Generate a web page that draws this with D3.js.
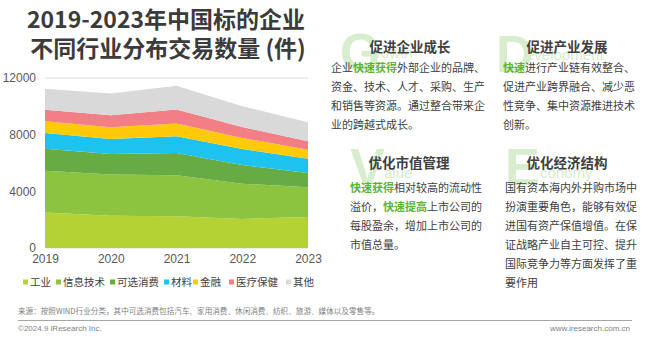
<!DOCTYPE html>
<html>
<head>
<meta charset="utf-8">
<script src="https://cdn.jsdelivr.net/npm/d3@7"></script>
<style>
  body { margin: 0; background: #fff; }
  svg { display: block; font-family: "Noto Sans CJK SC", "Noto Sans", sans-serif; }
</style>
</head>
<body>
<svg id="chart" width="660" height="337"></svg>
<script>
// data
var years = ["2019", "2020", "2021", "2022", "2023"];
var sectors = ["工业", "信息技术", "可选消费", "材料", "金融", "医疗保健", "其他"];
var industry = [2500, 2280, 2240, 2050, 2190];
var infotech = [2960, 2900, 2890, 2490, 2090];
var consumer = [1550, 1460, 1580, 1320, 1010];
var materials = [1110, 1060, 1180, 1130, 1010];
var finance = [820, 820, 890, 780, 640];
var health = [820, 850, 990, 780, 590];
var other = [1480, 1530, 1690, 1460, 1340];
var yTicks = [0, 4000, 8000, 12000];
var colors = ["#b5d234", "#8cc43f", "#67ab45", "#1dc3ee", "#ffca0a", "#f27f85", "#d9d9d9"];

var series = [industry, infotech, consumer, materials, finance, health, other];

var svg = d3.select("#chart");

// title
var title = svg.append("g").attr("fill", "#3b3b3b").attr("font-weight", "bold")
    .attr("font-size", 23).attr("text-anchor", "middle");
title.append("text").attr("x", 166).attr("y", 28).text("2019-2023年中国标的企业");
title.append("text").attr("x", 168).attr("y", 57).text("不同行业分布交易数量 (件)");

// stacked area
var rows = years.map(function(y, i){
    var r = {year: y};
    sectors.forEach(function(s, k){ r[s] = series[k][i]; });
    return r;
});
var stack = d3.stack().keys(sectors)(rows);

var x = d3.scalePoint().domain(years).range([45, 308]);
var y = d3.scaleLinear().domain([0, 12000]).range([248, 78]);

svg.append("g").selectAll("line").data(yTicks).enter().append("line")
    .attr("x1", 45).attr("x2", 308)
    .attr("y1", function(d){ return y(d); }).attr("y2", function(d){ return y(d); })
    .attr("stroke", "#d9d9d9").attr("stroke-width", 1);

var area = d3.area()
    .x(function(d){ return x(d.data.year); })
    .y0(function(d){ return y(d[0]); })
    .y1(function(d){ return y(d[1]); });

svg.append("g").selectAll("path").data(stack).enter().append("path")
    .attr("d", area)
    .attr("fill", function(d, i){ return colors[i]; });

// axes
var yAxis = svg.append("g").attr("transform", "translate(36,0)")
    .call(d3.axisLeft(y).tickValues(yTicks).tickSize(0).tickPadding(0).tickFormat(d3.format("d")));
yAxis.select(".domain").remove();
yAxis.selectAll("text").attr("font-size", 12).attr("fill", "#595959")
    .attr("font-family", "Liberation Sans, Arial, sans-serif");

var xAxis = svg.append("g").attr("transform", "translate(0,252)")
    .call(d3.axisBottom(x).tickSize(0).tickPadding(2));
xAxis.select(".domain").remove();
xAxis.selectAll("text").attr("font-size", 12).attr("fill", "#595959")
    .attr("font-family", "Liberation Sans, Arial, sans-serif");

// legend
var legendX = [23, 56, 110, 164, 193, 229, 286];
var legend = svg.append("g").selectAll("g").data(sectors).enter().append("g")
    .attr("transform", function(d, i){ return "translate(" + legendX[i] + ",282)"; });
legend.append("rect").attr("x", 0).attr("y", -2.5).attr("width", 5).attr("height", 5)
    .attr("fill", function(d, i){ return colors[i]; });
legend.append("text").attr("x", 7).attr("y", 4).attr("font-size", 10.5).attr("fill", "#404040")
    .text(function(d){ return d; });

// footer
svg.append("text").attr("x", 18).attr("y", 314).attr("font-size", 7.6).attr("fill", "#7f7f7f")
    .text("来源：按照WIND行业分类，其中可选消费包括汽车、家用消费、休闲消费、纺织、旅游、媒体以及零售等。");
svg.append("line").attr("x1", 18).attr("x2", 632).attr("y1", 320.5).attr("y2", 320.5)
    .attr("stroke", "#a6a6a6").attr("stroke-width", 1);
svg.append("text").attr("x", 18).attr("y", 331).attr("font-size", 8).attr("fill", "#7f7f7f")
    .attr("font-family", "Liberation Sans, Arial, sans-serif").text("©2024.9 iResearch Inc.");
svg.append("text").attr("x", 630).attr("y", 331).attr("font-size", 8).attr("fill", "#7f7f7f")
    .attr("text-anchor", "end")
    .attr("font-family", "Liberation Sans, Arial, sans-serif").text("www.iresearch.com.cn");

// right panel blocks
var blocks = [
    {letter: "G", rest: "rowth", lx: 340, ly: 70, rx: 376, ry: 58, title: "促进企业成长", tx: 410, ty: 52, bx: 331, by: 72,
     lines: [[["企业", 0], ["快速获得", 1], ["外部企业的品牌、", 0]], [["资金、技术、人才、采购、生产", 0]],
             [["和销售等资源。通过整合带来企", 0]], [["业的跨越式成长。", 0]]]},
    {letter: "D", rest: "evelopment", lx: 496, ly: 72, rx: 526, ry: 60, title: "促进产业发展", tx: 567, ty: 52, bx: 503, by: 72,
     lines: [[["快速", 1], ["进行产业链有效整合、", 0]], [["促进产业跨界融合、减少恶", 0]],
             [["性竞争、集中资源推进技术", 0]], [["创新。", 0]]]},
    {letter: "V", rest: "alue", lx: 350, ly: 185, rx: 384, ry: 178, title: "优化市值管理", tx: 409, ty: 168, bx: 350, by: 192,
     lines: [[["快速获得", 1], ["相对较高的流动性", 0]], [["溢价，", 0], ["快速提高", 1], ["上市公司的", 0]],
             [["每股盈余，增加上市公司的", 0]], [["市值总量。", 0]]]},
    {letter: "E", rest: "conomy", lx: 505, ly: 185, rx: 540, ry: 178, title: "优化经济结构", tx: 567, ty: 168, bx: 505, by: 192,
     lines: [[["国有资本海内外并购市场中", 0]], [["扮演重要角色，能够有效促", 0]], [["进国有资产保值增值。在保", 0]],
             [["证战略产业自主可控、提升", 0]], [["国际竞争力等方面发挥了重", 0]], [["要作用", 0]]]}
];

blocks.forEach(function(b){
    var g = svg.append("g");
    g.append("text").attr("x", b.lx).attr("y", b.ly).attr("font-size", 52).attr("font-weight", "bold")
        .attr("font-family", "Liberation Sans, Arial, sans-serif")
        .attr("fill", "#d8ecce").text(b.letter);
    g.append("text").attr("x", b.rx).attr("y", b.ry).attr("font-size", 15)
        .attr("font-family", "Liberation Sans, Arial, sans-serif")
        .attr("fill", "#d8ecce").text(b.rest);
    g.append("text").attr("x", b.tx).attr("y", b.ty).attr("text-anchor", "middle")
        .attr("font-size", 13.5).attr("font-weight", "bold").attr("fill", "#404040").text(b.title);
    b.lines.forEach(function(line, li){
        var t = g.append("text").attr("x", b.bx).attr("y", b.by + li * 19)
            .attr("font-size", 11).attr("fill", "#404040");
        line.forEach(function(seg){
            t.append("tspan").text(seg[0])
                .attr("fill", seg[1] ? "#5bb432" : "#404040")
                .attr("font-weight", seg[1] ? "bold" : "normal");
        });
    });
});
</script>
</body>
</html>
